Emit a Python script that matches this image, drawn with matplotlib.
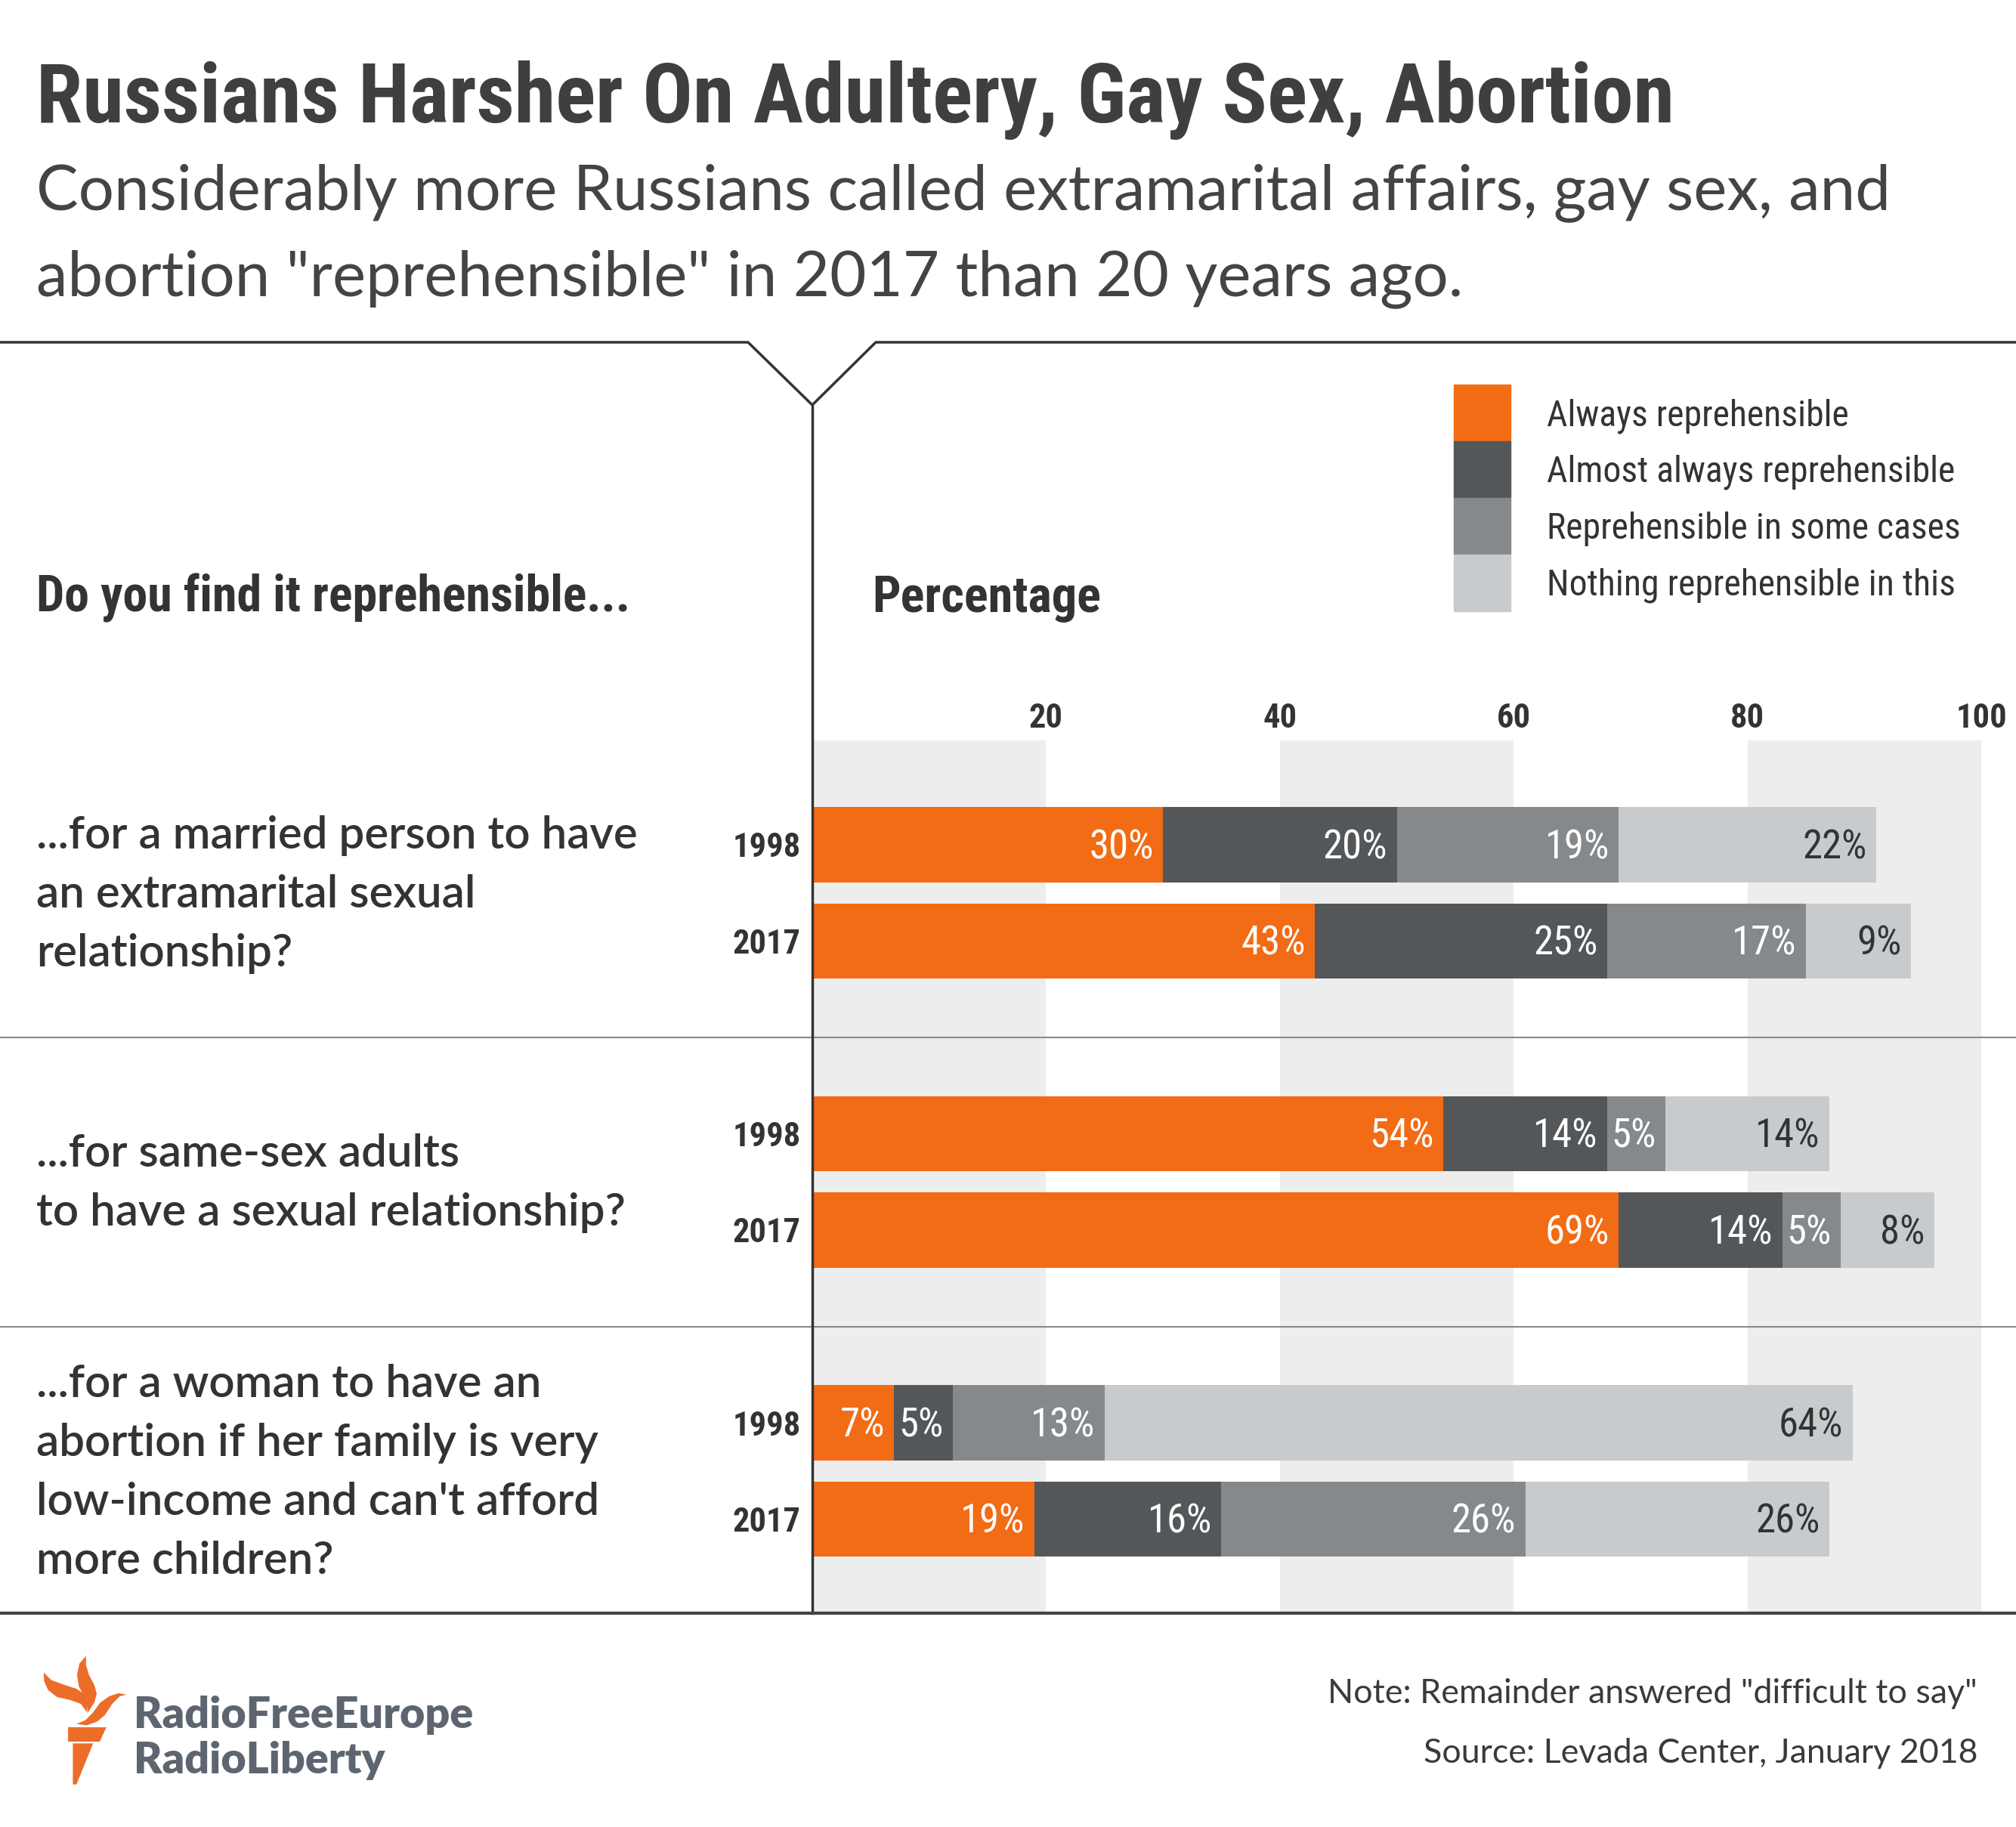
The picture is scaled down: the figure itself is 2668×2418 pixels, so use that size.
import matplotlib
matplotlib.use('Agg')
import matplotlib.pyplot as plt
from matplotlib.patches import Rectangle, Polygon
from matplotlib.lines import Line2D

# ---- data ----
questions = [
    ['...for a married person to have', 'an extramarital sexual', 'relationship?'],
    ['...for same-sex adults', 'to have a sexual relationship?'],
    ['...for a woman to have an', 'abortion if her family is very',
     "low-income and can't afford", 'more children?'],
]
years = ['1998', '2017']
categories = ['Always reprehensible', 'Almost always reprehensible',
              'Reprehensible in some cases', 'Nothing reprehensible in this']
# rows: q1 1998, q1 2017, q2 1998, q2 2017, q3 1998, q3 2017
always = [30, 43, 54, 69, 7, 19]
almost = [20, 25, 14, 14, 5, 16]
some_cases = [19, 17, 5, 5, 13, 26]
nothing = [22, 9, 14, 8, 64, 26]
xticks = [20, 40, 60, 80, 100]

colors = ['#F26B15', '#545759', '#85898B', '#C7CBCD']
label_colors = ['white', 'white', 'white', '#333333']

NARROW = ['Roboto Condensed', 'Liberation Sans Narrow', 'DejaVu Sans Condensed', 'DejaVu Sans']
SANS = ['Lato', 'DejaVu Sans']
COND = dict(family=NARROW, fontstretch='condensed')

W, H = 2668, 2418
fig = plt.figure(figsize=(W / 100, H / 100), dpi=100)
fig.patch.set_facecolor('white')


def fx(x):
    return x / W


def fy(y):
    return 1 - y / H


renderer = fig.canvas.get_renderer()


def fit(t, width):
    # scale font so text gets the width seen in the reference
    for _ in range(2):
        bb = t.get_window_extent(renderer=renderer)
        t.set_fontsize(t.get_fontsize() * width / bb.width)
    return t.get_fontsize()


# ---- header ----
title = fig.text(fx(48), fy(162), 'Russians Harsher On Adultery, Gay Sex, Abortion',
                 fontweight='bold', fontsize=80, color='#3f3f3f', va='baseline', **COND)
fit(title, 2164)
sub1 = fig.text(fx(48), fy(277), 'Considerably more Russians called extramarital affairs, gay sex, and',
                family=SANS, fontsize=54, color='#444444', va='baseline')
fs = fit(sub1, 2454)
fig.text(fx(48), fy(391), 'abortion "reprehensible" in 2017 than 20 years ago.',
         family=SANS, fontsize=fs, color='#444444', va='baseline')

# rules
fig.add_artist(Line2D([fx(0), fx(990), fx(1075), fx(1159), fx(W)],
                      [fy(453), fy(453), fy(536), fy(453), fy(453)],
                      transform=fig.transFigure, color='#333333', lw=2.5))
fig.add_artist(Line2D([fx(1075), fx(1075)], [fy(536), fy(2135)],
                      transform=fig.transFigure, color='#333333', lw=2.5, zorder=5))

q = fig.text(fx(48), fy(810), 'Do you find it reprehensible...',
             fontweight='bold', fontsize=44, color='#333333', va='baseline', **COND)
fit(q, 786)
p = fig.text(fx(1154), fy(810), 'Percentage',
             fontweight='bold', fontsize=44, color='#333333', va='baseline', **COND)
fit(p, 303)

# legend
leg_texts = []
for i, (lab, col) in enumerate(zip(categories, colors)):
    fig.patches.append(Rectangle((fx(1924), fy(509 + 75 * (i + 1))), 75 / W, 75 / H,
                                 transform=fig.transFigure, color=col))
    leg_texts.append(fig.text(fx(2047), fy(563 + 75 * i), lab,
                              fontsize=32, color='#333333', va='baseline', **COND))
lfs = fit(leg_texts[1], 541)
for t in leg_texts:
    t.set_fontsize(lfs)

# ---- bars ----
AX_L, AX_R, AX_T, AX_B = 1075, 2622, 980, 2135
Y0, ROW = 1118, 127.5
ax = fig.add_axes([fx(AX_L), fy(AX_B), (AX_R - AX_L) / W, (AX_B - AX_T) / H])
for a, b in [(0, 20), (40, 60), (80, 100)]:
    ax.axvspan(a, b, color='#EDEDED', zorder=0, lw=0)

pos = [3 * g + r for g in range(3) for r in range(2)]
left = [0] * len(pos)
for vals, col, tcol in zip([always, almost, some_cases, nothing], colors, label_colors):
    ax.barh(pos, vals, left=left, height=0.78, color=col, zorder=2)
    for y, v, l in zip(pos, vals, left):
        ax.text(l + v - 0.8, y + 0.03, f'{v}%', ha='right', va='center',
                fontsize=38, color=tcol, zorder=3, **COND)
    left = [l + v for l, v in zip(left, vals)]

ax.set_xlim(0, 100)
ax.set_ylim((AX_B - Y0) / ROW, (AX_T - Y0) / ROW)
ax.set_xticks(xticks)
ax.set_xticklabels([str(x) for x in xticks], fontweight='bold',
                   fontsize=32, color='#333333', **COND)
ax.xaxis.tick_top()
ax.set_yticks(pos)
ax.set_yticklabels(years * 3, fontweight='bold', fontsize=32, color='#333333', **COND)
ax.tick_params(length=0)
ax.tick_params(axis='x', pad=6)
ax.tick_params(axis='y', pad=11)
for s in ax.spines.values():
    s.set_visible(False)

# question labels and separators
qtexts = []
for g, lines in enumerate(questions):
    center = Y0 + ROW * (3 * g + 0.5) + 19
    n = len(lines)
    for i, line in enumerate(lines):
        yb = center + (i - (n - 1) / 2) * 78
        qtexts.append(fig.text(fx(48), fy(yb), line, family=SANS, fontweight='semibold',
                               fontsize=40, color='#333333', va='baseline'))
qfs = fit(qtexts[0], 794)
for t in qtexts:
    t.set_fontsize(qfs)

for g in (1, 2):
    ysep = Y0 + ROW * (3 * g - 1)
    fig.add_artist(Line2D([0, 1], [fy(ysep), fy(ysep)], transform=fig.transFigure,
                          color='#8a8a8a', lw=1.5, zorder=4))
fig.add_artist(Line2D([0, 1], [fy(2135), fy(2135)], transform=fig.transFigure,
                      color='#444444', lw=3, zorder=5))

# ---- footer ----
note = fig.text(fx(2617), fy(2254), 'Note: Remainder answered "difficult to say"',
                family=SANS, fontsize=30, color='#3a3a3a', ha='right', va='baseline')
nfs = fit(note, 859)
fig.text(fx(2617), fy(2333), 'Source: Levada Center, January 2018',
         family=SANS, fontsize=nfs, color='#3a3a3a', ha='right', va='baseline')

# logo
logo1 = fig.text(fx(177), fy(2287), 'RadioFreeEurope', family=SANS, fontweight='heavy',
                 fontsize=34, color='#5D6670', va='baseline')
lgfs = fit(logo1, 449)
fig.text(fx(177), fy(2347), 'RadioLiberty', family=SANS, fontweight='heavy',
         fontsize=lgfs, color='#5D6670', va='baseline')


def lz(pts):
    return [(fx(30 + x / 2.53), fy(2170 + y / 3.0)) for x, y in pts]


torch = [
    [(70, 130), (72, 165), (85, 200), (115, 228), (160, 240), (195, 255), (214, 288),
     (216, 250), (205, 215), (180, 195), (140, 180), (95, 160)],
    [(212, 65), (190, 95), (182, 140), (188, 185), (205, 225), (215, 260), (217, 292),
     (240, 250), (248, 215), (240, 180), (222, 140), (212, 100)],
    [(180, 335), (210, 320), (235, 290), (260, 250), (290, 225), (320, 213), (348, 218),
     (325, 225), (300, 255), (275, 300), (250, 325), (215, 340)],
    [(152, 348), (280, 348), (258, 405), (152, 405)],
    [(168, 412), (236, 412), (180, 575), (168, 575)],
]
for pts in torch:
    fig.patches.append(Polygon(lz(pts), closed=True, transform=fig.transFigure,
                               color='#EB6D28', lw=0))

fig.savefig('out.png', dpi=100, facecolor='white')
